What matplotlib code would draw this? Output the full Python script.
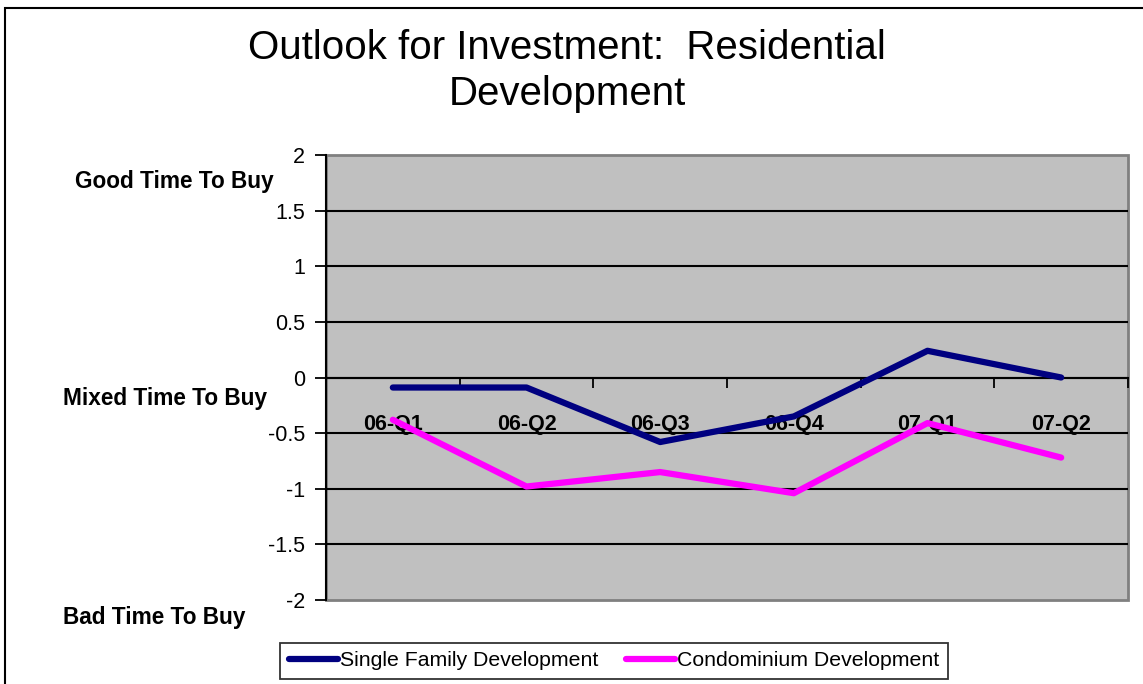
import matplotlib.pyplot as plt
from matplotlib.patches import Rectangle
import numpy as np

plt.rcParams['font.family'] = ['Liberation Sans', 'DejaVu Sans']

quarters = ['06-Q1', '06-Q2', '06-Q3', '06-Q4', '07-Q1', '07-Q2']
single_family = [-0.09, -0.09, -0.58, -0.35, 0.24, 0.0]
condominium = [-0.38, -0.98, -0.85, -1.04, -0.41, -0.72]
y_ticks = [-2, -1.5, -1, -0.5, 0, 0.5, 1, 1.5, 2]
y_tick_labels = ['-2', '-1.5', '-1', '-0.5', '0', '0.5', '1', '1.5', '2']
side_labels = ['Good Time To Buy', 'Mixed Time To Buy', 'Bad Time To Buy']
side_label_y = [1.76, -0.19, -2.16]
side_label_x = [75, 63, 63]  # pixels from left

fig = plt.figure(figsize=(11.43, 6.84), dpi=100)
ax = fig.add_axes([326/1143, 1 - 600/684, 802/1143, 445/684])

x = np.arange(len(quarters))
ax.plot(x, single_family, color='#000080', lw=4.5, solid_capstyle='round', label='Single Family Development', zorder=3)
ax.plot(x, condominium, color='#FF00FF', lw=4.5, solid_capstyle='round', label='Condominium Development', zorder=3)

ax.set_facecolor('#C0C0C0')
ax.set_xlim(-0.5, len(quarters) - 0.5)
ax.set_ylim(-2, 2)
ax.set_yticks(y_ticks)
ax.set_yticklabels(y_tick_labels, fontsize=15.5)
ax.tick_params(axis='y', direction='out', length=8, width=1.3, pad=7)
for yv in y_ticks[1:-1]:
    ax.axhline(yv, color='black', lw=1.5, zorder=1)

# plot area border (gray) on top, right, bottom
ax.add_patch(Rectangle((0, 0), 1, 1, transform=ax.transAxes, fill=False,
                       edgecolor='#808080', lw=2, zorder=0.5, clip_on=False))
ax.spines['top'].set_visible(False)
ax.spines['right'].set_visible(False)
ax.spines['left'].set_color('black')
ax.spines['left'].set_linewidth(1.5)
ax.spines['left'].set_zorder(2)

# category axis crosses at y = 0
ax.spines['bottom'].set_position(('data', 0))
ax.spines['bottom'].set_color('black')
ax.spines['bottom'].set_linewidth(1.5)
ax.set_xticks(np.arange(len(quarters) + 1) - 0.5)
ax.set_xticklabels([])
ax.set_xticks(x, minor=True)
ax.set_xticklabels(quarters, minor=True, fontsize=15.5, fontweight='bold')
ax.tick_params(axis='x', which='major', direction='out', length=7, width=1.3)
ax.tick_params(axis='x', which='minor', length=0, pad=26)

for txt, yv, xpx in zip(side_labels, side_label_y, side_label_x):
    ax.annotate(txt, xy=(xpx/1143, yv), xycoords=('figure fraction', 'data'),
                fontsize=16.3, fontweight='bold', ha='left', va='center', annotation_clip=False)

fig.text(567/1143, 1 - 71/684, 'Outlook for Investment:  Residential\nDevelopment',
         fontsize=29, ha='center', va='center', linespacing=1.27)

leg = fig.legend(loc='center', bbox_to_anchor=(614/1143, 1 - 661/684), ncol=2, fontsize=15.3,
                 frameon=True, fancybox=False, edgecolor='black', handlelength=2.3,
                 handletextpad=0.1, columnspacing=1.3, borderpad=0.4, borderaxespad=0)
leg.get_frame().set_linewidth(1.3)

fig.patches.append(Rectangle((5/1143, -0.1), 1.2, 1.1 - 8/684, transform=fig.transFigure,
                             fill=False, edgecolor='black', lw=1.5))

fig.savefig('out.png', dpi=100)
